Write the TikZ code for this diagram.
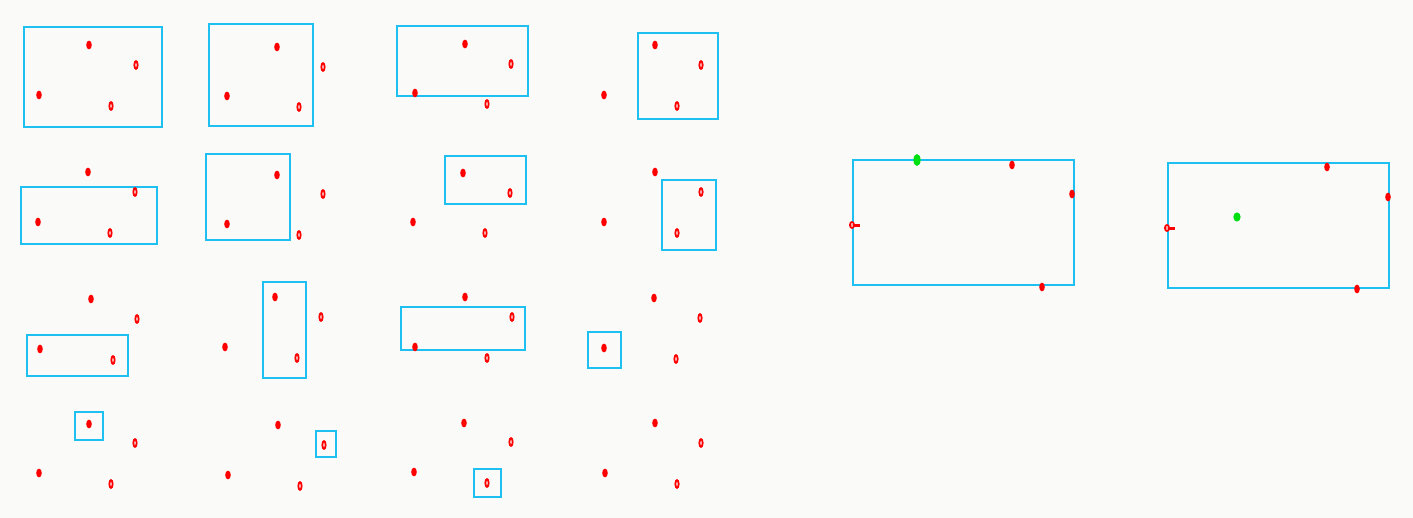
\documentclass[tikz,border=0pt]{standalone}
\definecolor{bg}{HTML}{FAFAF9}
\definecolor{boxc}{HTML}{1EC0F2}
\definecolor{ptred}{HTML}{FF0000}
\definecolor{ptgreen}{HTML}{00E010}
\tikzset{
  bbox/.style={draw=boxc, line width=1.5pt},
  rdot/.style={fill=ptred, draw=none},
  hole/.style={fill=bg, draw=none},
  gdot/.style={fill=ptgreen, draw=none},
}
\begin{document}
\begin{tikzpicture}[x=1pt,y=-1pt]
\fill[bg] (0,0) rectangle (1413,518);
\useasboundingbox (0,0) rectangle (1413,518);
% boxes
\draw[bbox] (24,27) rectangle (162,127);
\draw[bbox] (209,24) rectangle (313,126);
\draw[bbox] (397,26) rectangle (528,96);
\draw[bbox] (638,33) rectangle (718,119);
\draw[bbox] (21,187) rectangle (157,244);
\draw[bbox] (206,154) rectangle (290,240);
\draw[bbox] (445,156) rectangle (526,204);
\draw[bbox] (662,180) rectangle (716,250);
\draw[bbox] (27,335) rectangle (128,376);
\draw[bbox] (263,282) rectangle (306,378);
\draw[bbox] (401,307) rectangle (525,350);
\draw[bbox] (588,332) rectangle (621,368);
\draw[bbox] (75,412) rectangle (103,440);
\draw[bbox] (316,431) rectangle (336,457);
\draw[bbox] (474,469) rectangle (501,497);
\draw[bbox] (853,160) rectangle (1074,285);
\draw[bbox] (1168,163) rectangle (1389,288);
% filled points (top and left of each small panel, and large panels)
\foreach \px/\py in {
 89/45,39/95, 277/47,227/96, 465/44,415/93, 655/45,604/95,
 88/172,38/222, 277/175,227/224, 463/173,413/222, 655/172,604/222,
 91/299,40/349, 275/297,225/347, 465/297,415/347, 654/298,604/348,
 89/424,39/473, 278/425,228/475, 464/423,414/472, 655/423,605/473,
 1012/165,1072/194,1042/287,
 1327/167,1388/197,1357/289}
 {\fill[rdot] (\px,\py) ellipse [x radius=2.8, y radius=4.4];}
% ring-like points (right and bottom of each small panel)
\foreach \px/\py in {
 136/65,111/106, 323/67,299/107, 511/64,487/104, 701/65,677/106,
 135/192,110/233, 323/194,299/235, 510/193,485/233, 701/192,677/233,
 137/319,113/360, 321/317,297/358, 512/317,487/358, 700/318,676/359,
 135/443,111/484, 324/445,300/486, 511/442,487/483, 701/443,677/484}
 {\fill[rdot] (\px,\py) ellipse [x radius=2.6, y radius=5];
  \fill[hole] (\px,\py) ellipse [x radius=0.6, y radius=2.4];}
% left points on large panels with small dash
\fill[rdot] (852,225) ellipse [x radius=3, y radius=4];
\fill[hole] (852,225) ellipse [x radius=0.7, y radius=2.2];
\fill[rdot] (853,224.5) rectangle (860,227.5);
\fill[rdot] (1167,228) ellipse [x radius=3, y radius=4];
\fill[hole] (1167,228) ellipse [x radius=0.7, y radius=2.2];
\fill[rdot] (1168,227.5) rectangle (1175,230.5);
% green points
\fill[gdot] (917,160) ellipse [x radius=3.6, y radius=6];
\fill[gdot] (1237,217) ellipse [x radius=3.6, y radius=4.6];
\end{tikzpicture}
\end{document}
